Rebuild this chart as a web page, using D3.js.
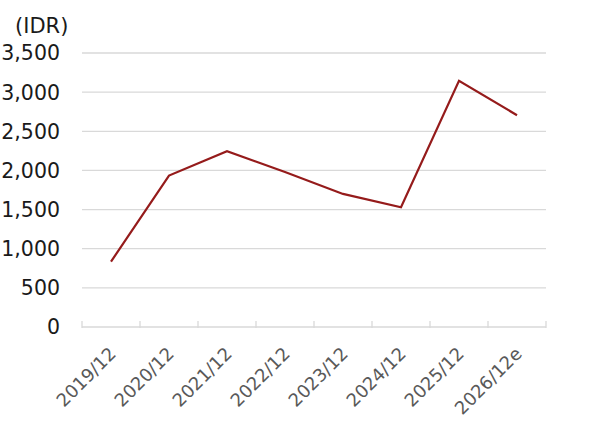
<!DOCTYPE html>
<html><head><meta charset="utf-8">
<script src="https://cdn.jsdelivr.net/npm/d3@7"></script>
<style>body{margin:0;background:#fff}svg{display:block}</style>
</head><body>
<svg id="c" width="600" height="435"></svg>
<script>
const categories = ["2019/12","2020/12","2021/12","2022/12","2023/12","2024/12","2025/12","2026/12e"];
const values = [835, 1935, 2245, 1980, 1700, 1530, 3145, 2705];
const yTicks = [0,500,1000,1500,2000,2500,3000,3500];
const unitLabel = "(IDR)";

const svg = d3.select("#c");
const mLeft = 82, mRight = 546, mTop = 53, mBottom = 327;
const x = d3.scaleBand().domain(categories).range([mLeft, mRight]);
const y = d3.scaleLinear().domain([0, 3500]).range([mBottom, mTop]);
const font = "DejaVu Sans, Verdana, sans-serif";

// gridlines
svg.append("g").selectAll("line").data(yTicks.filter(d => d > 0)).join("line")
  .attr("x1", mLeft).attr("x2", mRight)
  .attr("y1", d => y(d)).attr("y2", d => y(d))
  .attr("stroke", "#d9d9d9").attr("stroke-width", 1.3);

// y labels
svg.append("g").selectAll("text").data(yTicks).join("text")
  .attr("x", 60).attr("y", d => y(d)).attr("dy", "0.36em")
  .attr("text-anchor", "end").attr("font-family", font).attr("font-size", 20.5)
  .attr("fill", "#1a1a1a").text(d => d3.format(",")(d));

svg.append("text").attr("x", 15).attr("y", 33).attr("font-family", font)
  .attr("font-size", 21).attr("fill", "#1a1a1a").text(unitLabel);

// x axis
const xa = svg.append("g");
xa.append("line").attr("x1", mLeft).attr("x2", mRight).attr("y1", mBottom).attr("y2", mBottom)
  .attr("stroke", "#d9d9d9").attr("stroke-width", 1.3);
const bounds = categories.map(c => x(c)).concat([mRight]);
xa.selectAll("line.t").data(bounds).join("line").attr("class", "t")
  .attr("x1", d => d).attr("x2", d => d).attr("y1", mBottom - 6).attr("y2", mBottom + 1)
  .attr("stroke", "#d9d9d9").attr("stroke-width", 1.3);

xa.selectAll("text").data(categories).join("text")
  .attr("transform", d => `translate(${x(d) + x.bandwidth()/2 + 6},${mBottom + 28}) rotate(-45)`)
  .attr("text-anchor", "end").attr("font-family", font).attr("font-size", 18)
  .attr("fill", "#595959").text(d => d);

// line
const line = d3.line().x((d, i) => x(categories[i]) + x.bandwidth()/2).y(d => y(d));
svg.append("path").datum(values).attr("d", line)
  .attr("fill", "none").attr("stroke", "#951b1b").attr("stroke-width", 2.2)
  .attr("stroke-linejoin", "miter");
</script>
</body></html>
